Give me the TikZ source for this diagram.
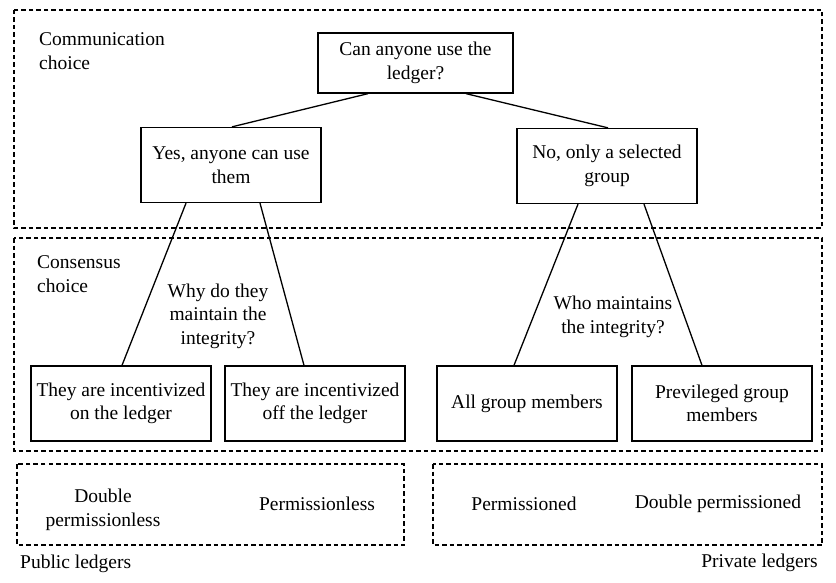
\documentclass[tikz,border=0pt]{standalone}
\usepackage{fontspec}
\setmainfont{Liberation Serif}
\begin{document}
\begin{tikzpicture}[x=1pt,y=-1pt,
  font=\fontsize{19.5}{23.5}\selectfont,
  box/.style={draw, line width=1.3pt, minimum width=180pt, minimum height=75pt, align=center, inner sep=2pt},
  region/.style={draw, dash pattern=on 4.5pt off 3pt, line width=1.1pt},
  lbl/.style={inner sep=0pt, align=left},
  txt/.style={inner sep=0pt, align=center},
  link/.style={line width=1.3pt}]
\useasboundingbox (0,0) rectangle (836,583);
% regions
\draw[region] (14,10) rectangle (822,228);
\draw[region] (14,238) rectangle (822,451);
\draw[region] (17,464) rectangle (404,545);
\draw[region] (433,464) rectangle (822,545);
% region labels
\node[lbl, anchor=west] (lcomm) at (39,51) {Communication\\choice};
\node[lbl, anchor=west] (lcons) at (37,274) {Consensus\\choice};
\node[lbl, anchor=west] (lpub) at (20,564) {Public ledgers};
\node[lbl, anchor=east] (lpriv) at (818,563) {Private ledgers};
% tree nodes
\node[box, minimum width=195pt, minimum height=60pt] (root) at (415.5,63) {Can anyone use the\\ledger?};
\node[box] (yes) at (231,165) {Yes, anyone can use\\them};
\node[box] (no) at (607,166) {No, only a selected\\group};
\node[box] (on) at (121,403.5) {They are incentivized\\on the ledger};
\node[box] (off) at (315,403.5) {They are incentivized\\off the ledger};
\node[box] (all) at (527,403.5) {All group members};
\node[box] (prev) at (722,403.5) {Previleged group\\members};
% questions
\node[txt] (qwhy) at (218,316) {Why do they\\maintain the\\integrity?};
\node[txt] (qwho) at (613,317) {Who maintains\\the integrity?};
% ledger types
\node[txt] (dpl) at (103,510) {Double\\permissionless};
\node[txt] (pl) at (317,504) {Permissionless};
\node[txt] (pd) at (524,504) {Permissioned};
\node[txt] (dpd) at (718,504) {Double permissioned};
% connectors
\draw[link] ([xshift=-47.5pt]root.south) -- ([xshift=1pt]yes.north);
\draw[link] ([xshift=50.5pt]root.south) -- ([xshift=1pt]no.north);
\draw[link] ([xshift=-45pt]yes.south) -- ([xshift=1pt]on.north);
\draw[link] ([xshift=29pt]yes.south) -- ([xshift=-11pt]off.north);
\draw[link] ([xshift=-29pt]no.south) -- ([xshift=-13pt]all.north);
\draw[link] ([xshift=37pt]no.south) -- ([xshift=-20pt]prev.north);
\end{tikzpicture}
\end{document}
